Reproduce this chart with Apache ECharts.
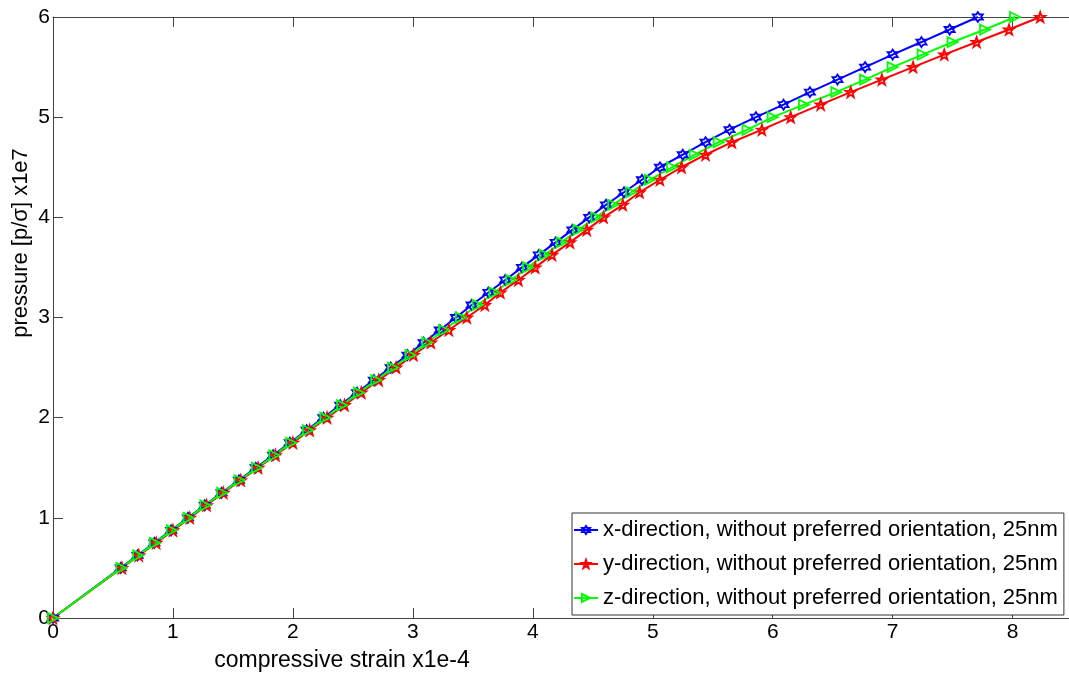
<!DOCTYPE html>
<html>
<head>
<meta charset="utf-8">
<script src="https://cdn.jsdelivr.net/npm/echarts@6/dist/echarts.min.js"></script>
<style>
  html, body { margin: 0; padding: 0; background: #fff; }
  #chart { width: 1069px; height: 677px; }
</style>
</head>
<body>
<div id="chart"></div>
<script>
// pressure levels (y) shared by all three runs
var pressure = [0, 0.5, 0.625, 0.75, 0.875, 1.0, 1.125, 1.25, 1.375, 1.5, 1.625, 1.75, 1.875, 2.0,
  2.125, 2.25, 2.375, 2.5, 2.625, 2.75, 2.875, 3.0, 3.125, 3.25, 3.375, 3.5, 3.625, 3.75, 3.875, 4.0,
  4.125, 4.25, 4.375, 4.5, 4.625, 4.75, 4.875, 5.0, 5.125, 5.25, 5.375, 5.5, 5.625, 5.75, 5.875, 6.0];

// compressive strain (x)
var strainX = [0, 0.565, 0.705, 0.845, 0.985, 1.125, 1.265, 1.405, 1.55, 1.69, 1.835, 1.975, 2.115, 2.255,
  2.395, 2.535, 2.675, 2.815, 2.955, 3.09, 3.225, 3.36, 3.49, 3.63, 3.77, 3.91, 4.05, 4.19, 4.33, 4.47,
  4.61, 4.76, 4.91, 5.06, 5.25, 5.44, 5.64, 5.86, 6.09, 6.31, 6.54, 6.77, 7.0, 7.24, 7.475, 7.71];
var strainY = [0, 0.575, 0.715, 0.86, 1.0, 1.14, 1.28, 1.42, 1.565, 1.71, 1.855, 2.0, 2.14, 2.285,
  2.43, 2.57, 2.715, 2.86, 3.005, 3.15, 3.30, 3.45, 3.6, 3.73, 3.88, 4.02, 4.16, 4.31, 4.45, 4.59,
  4.75, 4.89, 5.06, 5.24, 5.44, 5.66, 5.91, 6.15, 6.4, 6.65, 6.91, 7.17, 7.43, 7.7, 7.97, 8.23];
var strainZ = [0, 0.57, 0.71, 0.85, 0.99, 1.13, 1.27, 1.41, 1.555, 1.7, 1.845, 1.985, 2.125, 2.27,
  2.41, 2.55, 2.695, 2.835, 2.98, 3.12, 3.26, 3.40, 3.54, 3.68, 3.82, 3.96, 4.1, 4.24, 4.38, 4.53,
  4.67, 4.82, 4.975, 5.16, 5.35, 5.55, 5.79, 6.0, 6.26, 6.53, 6.77, 7.0, 7.25, 7.5, 7.77, 8.02];

var names = [
  'x-direction, without preferred orientation, 25nm',
  'y-direction, without preferred orientation, 25nm',
  'z-direction, without preferred orientation, 25nm'
];

var FONT = '"Liberation Sans", Arial, Helvetica, sans-serif';

// matlab-ish markers
var hexagram = 'path://M5,0L6.443,2.5L9.33,2.5L7.887,5L9.33,7.5L6.443,7.5L5,10L3.557,7.5L0.67,7.5L2.113,5L0.67,2.5L3.557,2.5Z';
var pentagram = 'path://M5,0L6.176,3.382L9.755,3.455L6.902,5.618L7.939,9.045L5,7L2.061,9.045L3.098,5.618L0.245,3.455L3.824,3.382Z';
var triRight = 'path://M0,0L10,5L0,10Z';

function pairs(xs) {
  var out = [];
  for (var i = 0; i < xs.length; i++) out.push([xs[i], pressure[i]]);
  return out;
}

function mkSeries(name, xs, color, symbol, size) {
  return {
    name: name,
    type: 'line',
    data: pairs(xs),
    symbol: symbol,
    symbolSize: size,
    showAllSymbol: true,
    animation: false,
    lineStyle: { color: color, width: 2 },
    itemStyle: { color: 'rgba(255,255,255,0)', borderColor: color, borderWidth: 1.8 }
  };
}

var chart = echarts.init(document.getElementById('chart'));

var axisLine = { show: true, onZero: false, lineStyle: { color: '#444', width: 1 } };
var axisTick = { show: true, inside: true, length: 10, lineStyle: { color: '#444' } };

var option = {
  backgroundColor: '#fff',
  animation: false,
  grid: { left: 53, top: 17, right: 0, bottom: 59 },
  xAxis: [
    {
      type: 'value', min: 0, max: 8.47, interval: 1, position: 'bottom',
      axisLine: axisLine, axisTick: axisTick, splitLine: { show: false },
      axisLabel: { color: '#000', fontSize: 21, fontFamily: FONT, margin: 4, showMaxLabel: false,
        formatter: function (v) { return v > 8 ? '' : v; } }
    },
    {
      type: 'value', min: 0, max: 8.47, interval: 1, position: 'top',
      axisLine: axisLine, axisTick: axisTick, splitLine: { show: false },
      axisLabel: { show: false }
    }
  ],
  yAxis: {
    type: 'value', min: 0, max: 6, interval: 1,
    axisLine: axisLine, axisTick: axisTick, splitLine: { show: false },
    axisLabel: { color: '#000', fontSize: 21, fontFamily: FONT, margin: 3 }
  },
  legend: {
    orient: 'vertical',
    left: 572, top: 513,
    padding: [6, 6, 6, 1],
    itemWidth: 24, itemHeight: 10, itemGap: 12,
    backgroundColor: '#fff',
    borderColor: '#333', borderWidth: 1,
    textStyle: { color: '#000', fontSize: 22, fontFamily: FONT, lineHeight: 22 },
    data: names
  },
  graphic: [
    {
      type: 'text', x: 342, y: 661,
      style: { text: 'compressive strain x1e-4', fill: '#000', font: '23px ' + FONT,
        textAlign: 'center', textVerticalAlign: 'middle' }
    },
    {
      type: 'text', x: 21, y: 243, rotation: Math.PI / 2,
      style: { text: 'pressure [p/σ] x1e7', fill: '#000', font: '22px ' + FONT,
        textAlign: 'center', textVerticalAlign: 'middle' }
    }
  ],
  series: [
    mkSeries(names[0], strainX, '#0000ff', hexagram, 10),
    mkSeries(names[1], strainY, '#ff0000', pentagram, 10),
    mkSeries(names[2], strainZ, '#00ff00', triRight, 10)
  ]
};

chart.setOption(option);
</script>
</body>
</html>
